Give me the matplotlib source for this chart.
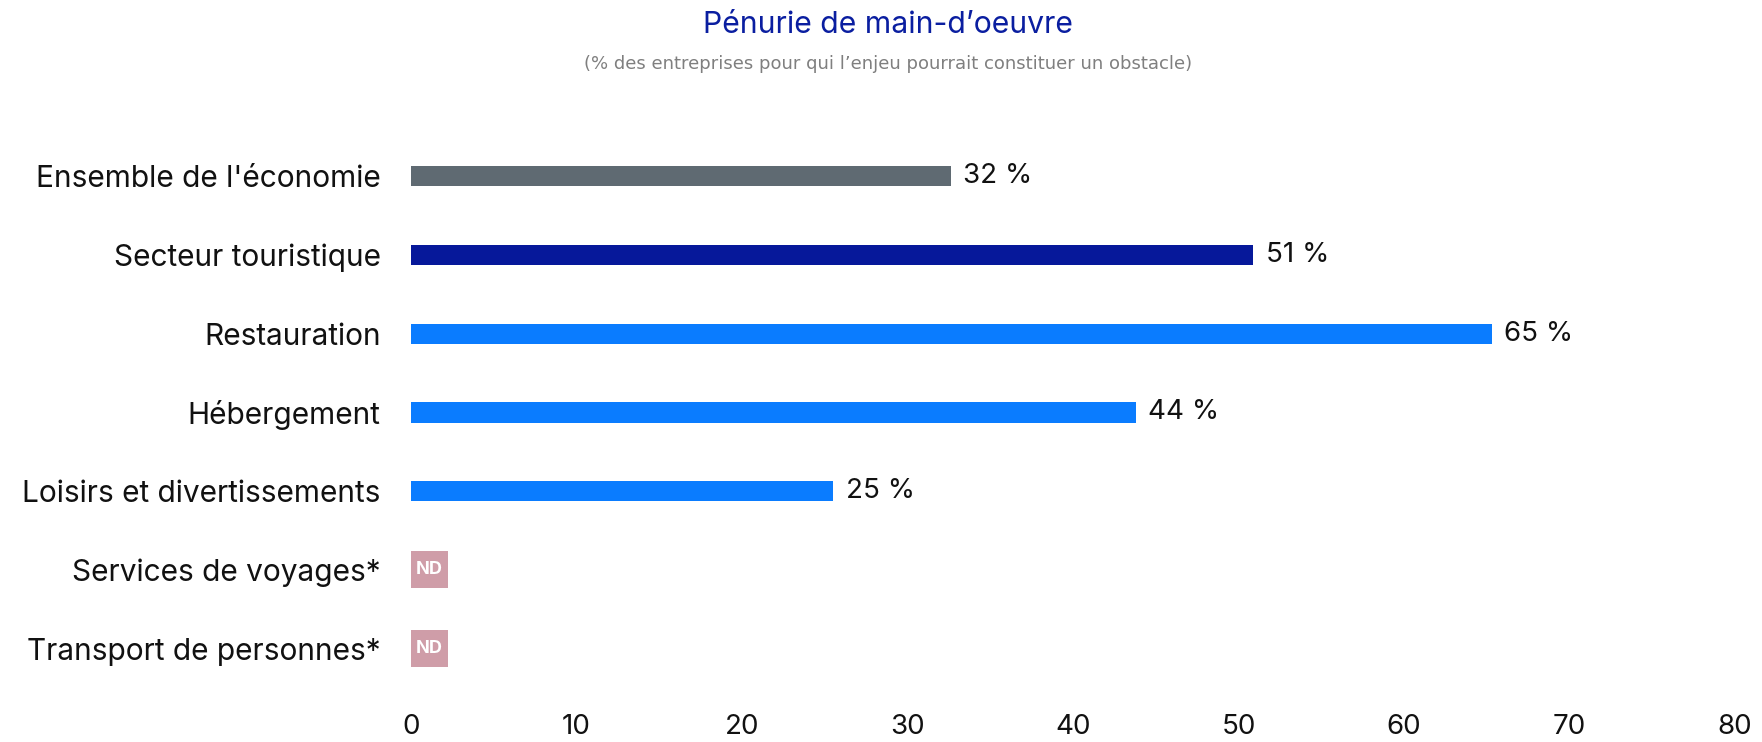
import matplotlib.pyplot as plt
import numpy as np

# data
categories = ["Ensemble de l'économie", "Secteur touristique", "Restauration",
              "Hébergement", "Loisirs et divertissements",
              "Services de voyages*", "Transport de personnes*"]
values = [32.6, 50.9, 65.3, 43.8, 25.5, None, None]
value_labels = ["32 %", "51 %", "65 %", "44 %", "25 %", "ND", "ND"]
colors = ["#5F6A72", "#06189A", "#0A7CFF", "#0A7CFF", "#0A7CFF", "#CF9DA8", "#CF9DA8"]
xticks = [0, 10, 20, 30, 40, 50, 60, 70, 80]

plt.rcParams['font.family'] = ["Inter", "DejaVu Sans"]

fig = plt.figure(figsize=(17.62, 7.42), dpi=100)
ax = fig.add_axes([0.2333, 0.0728, 0.7514, 0.7426])

y = np.arange(len(categories))
for i, (v, lab, c) in enumerate(zip(values, value_labels, colors)):
    if v is None:
        # "ND" square badge
        ax.barh(i, 2.25, height=0.47, left=0, color=c)
        ax.text(1.12, i, lab, ha='center', va='center', color='white',
                fontsize=13, fontweight='bold')
    else:
        ax.barh(i, v, height=0.255, color=c)
        ax.annotate(lab, (v, i), xytext=(9, 0), textcoords='offset points',
                    ha='left', va='center', fontsize=20, color='#111111')

ax.set_ylim(len(categories) - 0.5, -0.5)
ax.set_xlim(0, 80)
ax.set_xticks(xticks)
ax.set_yticks(y)
ax.set_yticklabels(categories)
ax.tick_params(axis='y', length=0, pad=22, labelsize=21.5, labelcolor='#111111')
ax.tick_params(axis='x', length=0, pad=19, labelsize=20, labelcolor='#111111')
for s in ax.spines.values():
    s.set_visible(False)

fig.text(0.504, 0.966, "Pénurie de main-d’oeuvre", ha='center', va='center',
         fontsize=21.7, color='#0A1EA0')
fig.text(0.504, 0.914, "(% des entreprises pour qui l’enjeu pourrait constituer un obstacle)",
         ha='center', va='center', fontsize=13, color='#7F7F7F',
         family=['DejaVu Sans'])

fig.savefig('out.png', dpi=100, facecolor='white')
